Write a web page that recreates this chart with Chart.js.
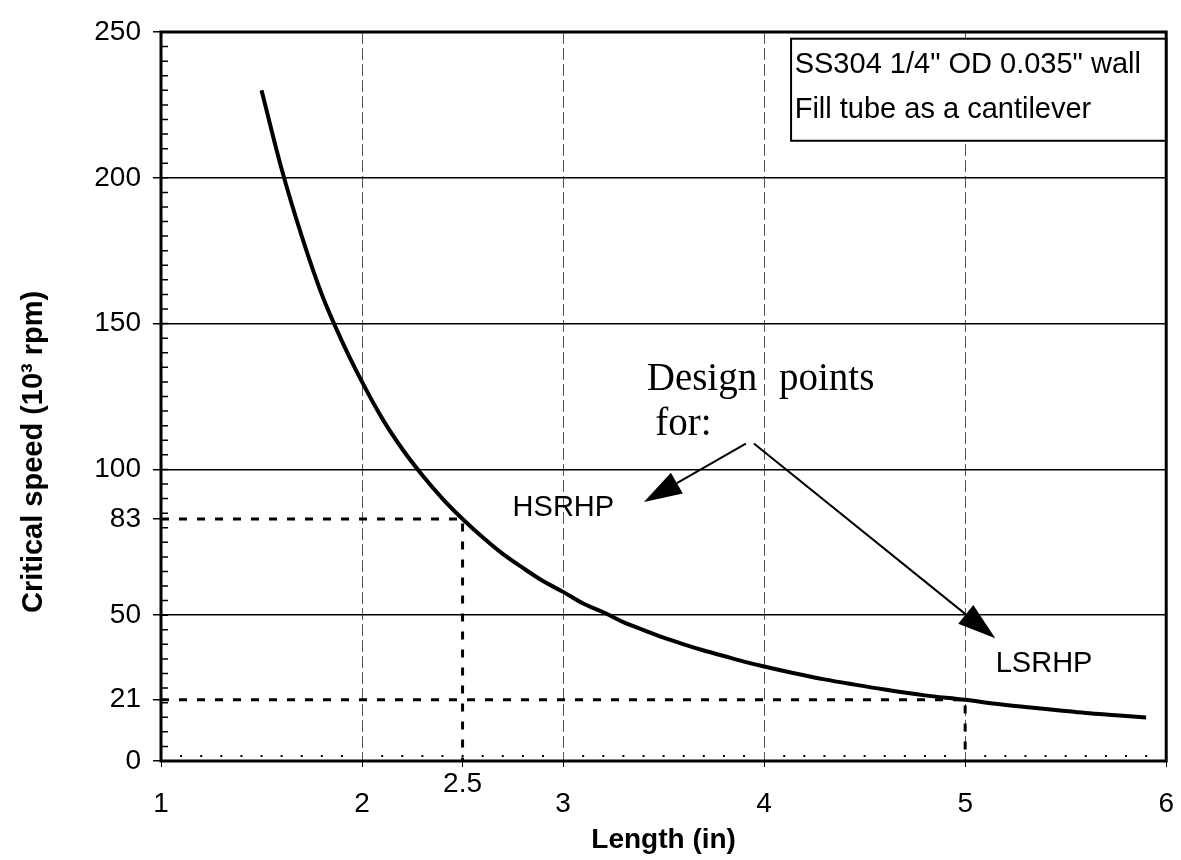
<!DOCTYPE html>
<html>
<head>
<meta charset="utf-8">
<title>Critical speed vs length</title>
<script src="https://cdn.jsdelivr.net/npm/chart.js@4.4.1/dist/chart.umd.min.js"></script>
<style>
  body { margin: 0; background: #fff; }
  #chart { display: block; background: #fff; }
</style>
</head>
<body>
<canvas id="chart" width="1181" height="860"></canvas>
<script>
// curve: length (in) -> critical speed (10^3 rpm)
var lengths = [1.5, 1.6, 1.7, 1.8, 1.9, 2.0, 2.1, 2.2, 2.3, 2.4, 2.5, 2.6, 2.7, 2.8, 2.9, 3.0, 3.1, 3.2, 3.3, 3.4, 3.5,
               3.6, 3.7, 3.8, 3.9, 4.0, 4.15, 4.3, 4.45, 4.6, 4.8, 5.0, 5.15, 5.3, 5.45, 5.6, 5.75, 5.9];
var speeds = [230, 203, 180, 160, 144, 130, 117.5, 107, 98, 90, 83, 76.7, 71, 66.2, 61.7, 58, 54, 51, 47.6, 44.9, 42.3,
              40, 37.9, 36, 34.1, 32.4, 30.1, 28, 26.2, 24.5, 22.5, 21, 19.6, 18.5, 17.5, 16.5, 15.7, 14.9];

// design points (HSRHP, LSRHP)
var designLengths = [2.5, 5];
var designSpeeds = [83, 21];

var xTicks = [1, 2, 2.5, 3, 4, 5, 6];
var yTicks = [0, 21, 50, 83, 100, 150, 200, 250];
var xGrid = [2, 3, 4, 5];
var yGrid = [50, 100, 150, 200];

Chart.defaults.font.family = '"Liberation Sans", Arial, sans-serif';
Chart.defaults.color = '#000';

var curve = [];
for (var i = 0; i < lengths.length; i++) {
    curve.push({ x: lengths[i], y: speeds[i] });
}

function guide(i) {
    return [
        { x: xTicks[0], y: designSpeeds[i] },
        { x: designLengths[i], y: designSpeeds[i] },
        { x: designLengths[i], y: 0 }
    ];
}

function arrow(ctx, x0, y0, x1, y1) {
    var ang = Math.atan2(y1 - y0, x1 - x0), len = 38, half = 12;
    var bx = x1 - len * Math.cos(ang), by = y1 - len * Math.sin(ang);
    ctx.beginPath();
    ctx.moveTo(x0, y0);
    ctx.lineTo(bx, by);
    ctx.stroke();
    ctx.beginPath();
    ctx.moveTo(x1, y1);
    ctx.lineTo(bx + half * Math.sin(ang), by - half * Math.cos(ang));
    ctx.lineTo(bx - half * Math.sin(ang), by + half * Math.cos(ang));
    ctx.closePath();
    ctx.fill();
}

var decor = {
    id: 'decor',
    afterDatasetsDraw: function (chart) {
        var ctx = chart.ctx, a = chart.chartArea;
        var xs = chart.scales.x, ys = chart.scales.y;
        function px(v) { return xs.getPixelForValue(v); }
        function py(v) { return ys.getPixelForValue(v); }

        ctx.save();
        ctx.fillStyle = '#000';
        ctx.strokeStyle = '#000';

        // minor ticks inside the left axis, every 5
        ctx.lineWidth = 1.5;
        ctx.beginPath();
        for (var v = 5; v < 250; v += 5) {
            ctx.moveTo(a.left, py(v));
            ctx.lineTo(a.left + 7, py(v));
        }
        ctx.stroke();

        // small dots along the bottom axis, every 0.1
        for (var k = 11; k < 60; k++) {
            if (k % 10 === 0) continue;
            ctx.fillRect(px(k / 10) - 1, a.bottom - 6, 2, 2);
        }

        // note box, top right
        var bl = px(4.134), bt = py(247.7), bb = py(212.7);
        ctx.fillStyle = '#fff';
        ctx.fillRect(bl, bt, a.right - bl, bb - bt);
        ctx.lineWidth = 2;
        ctx.strokeRect(bl, bt, a.right - bl, bb - bt);
        ctx.fillStyle = '#000';
        ctx.font = '29px "Liberation Sans", Arial, sans-serif';
        ctx.textAlign = 'left';
        ctx.textBaseline = 'alphabetic';
        ctx.fillText('SS304 1/4" OD 0.035" wall', px(4.152), py(236));
        ctx.fillText('Fill tube as a cantilever', px(4.152), py(220.6));

        // frame
        ctx.lineWidth = 3;
        ctx.strokeRect(a.left, a.top, a.right - a.left, a.bottom - a.top);

        // design point labels and arrows
        ctx.font = '29px "Liberation Sans", Arial, sans-serif';
        ctx.fillText('HSRHP', px(2.749), py(83.9));
        ctx.fillText('LSRHP', px(5.152), py(30.5));

        ctx.font = '39px "Liberation Serif", "Times New Roman", serif';
        ctx.fillText('Design', px(3.416), py(127.3));
        ctx.fillText('points', px(4.074), py(127.3));
        ctx.fillText('for:', px(3.458), py(111.9));

        ctx.lineWidth = 2;
        arrow(ctx, px(3.909), py(108.8), px(3.402), py(88.8));
        arrow(ctx, px(3.949), py(108.9), px(5.15), py(42.1));

        // y axis title
        ctx.translate(42, a.top + (a.bottom - a.top) * 0.576);
        ctx.rotate(-Math.PI / 2);
        ctx.textAlign = 'center';
        ctx.font = 'bold 29px "Liberation Sans", Arial, sans-serif';
        ctx.fillText('Critical speed (10\u00B3 rpm)', 0, 0);
        ctx.restore();
    }
};

const ctx = document.getElementById('chart').getContext('2d');
const myChart = new Chart(ctx, {
    type: 'line',
    data: {
        datasets: [{
            label: 'Critical speed',
            data: curve,
            borderColor: '#000',
            borderWidth: 4,
            pointRadius: 0,
            cubicInterpolationMode: 'monotone',
            fill: false
        },
        {
            label: 'HSRHP',
            data: guide(0),
            borderColor: '#000',
            borderWidth: 3,
            borderDash: [8, 10],
            pointRadius: 0,
            fill: false
        },
        {
            label: 'LSRHP',
            data: guide(1),
            borderColor: '#000',
            borderWidth: 3,
            borderDash: [8, 10],
            pointRadius: 0,
            fill: false
        }]
    },
    options: {
        responsive: false,
        animation: false,
        devicePixelRatio: 1,
        layout: { padding: { top: 32, right: 10, left: 0, bottom: 0 } },
        plugins: {
            legend: { display: false },
            tooltip: { enabled: false }
        },
        scales: {
            x: {
                type: 'linear',
                min: 1,
                max: 6,
                afterBuildTicks: function (scale) {
                    scale.ticks = xTicks.map(function (v) { return { value: v }; });
                },
                afterFit: function (scale) { scale.height = 99; },
                ticks: {
                    autoSkip: false,
                    maxRotation: 0,
                    padding: 7,
                    font: { size: 28, lineHeight: 0.72 },
                    callback: function (value) {
                        return value === 2.5 ? '2.5' : ['', String(value)];
                    }
                },
                grid: {
                    color: function (c) {
                        return c.tick && xGrid.indexOf(c.tick.value) >= 0 ? '#555' : 'rgba(0,0,0,0)';
                    },
                    lineWidth: 1,
                    tickColor: '#000',
                    tickLength: 6,
                    tickWidth: 1
                },
                border: { display: false, dash: [12, 4] },
                title: {
                    display: true,
                    text: 'Length (in)',
                    font: { size: 28, weight: 'bold' },
                    padding: { top: 0, bottom: 3 }
                }
            },
            y: {
                type: 'linear',
                min: 0,
                max: 250,
                afterBuildTicks: function (scale) {
                    scale.ticks = yTicks.map(function (v) { return { value: v }; });
                },
                afterFit: function (scale) { scale.width = 161; },
                ticks: {
                    autoSkip: false,
                    padding: 12,
                    font: { size: 28 }
                },
                grid: {
                    color: function (c) {
                        return c.tick && yGrid.indexOf(c.tick.value) >= 0 ? '#000' : 'rgba(0,0,0,0)';
                    },
                    lineWidth: 1.5,
                    tickColor: '#000',
                    tickLength: 8,
                    tickWidth: 1.5
                },
                border: { display: false }
            }
        }
    },
    plugins: [decor]
});
</script>
</body>
</html>
